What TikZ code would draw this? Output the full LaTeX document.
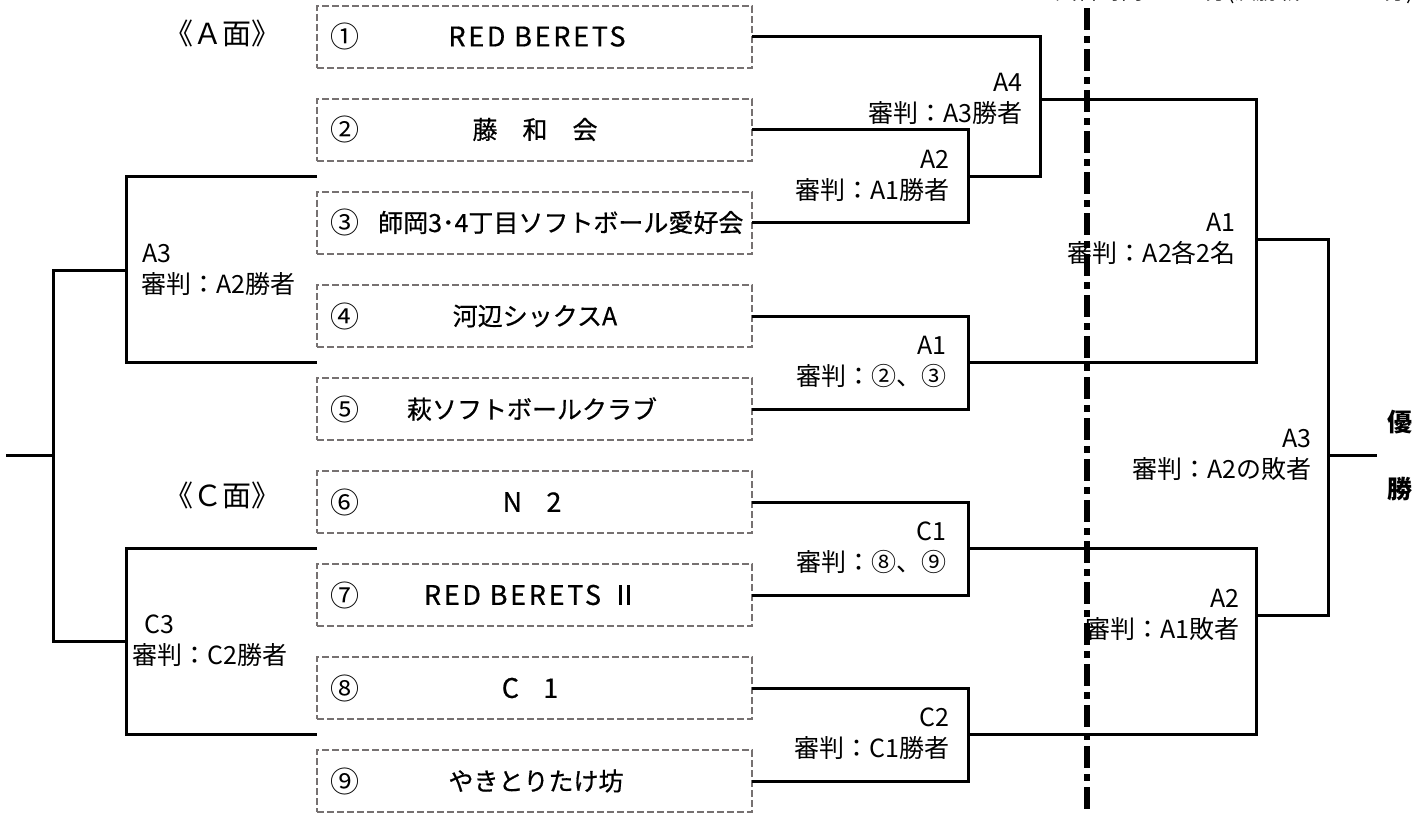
\documentclass[tikz,border=0pt]{standalone}
\usepackage{fontspec}
\setmainfont{Noto Sans CJK JP}
\newfontfamily\teamfont[FakeBold=0.6]{Noto Sans CJK JP}
\newfontfamily\teamlatin[FakeBold=0.6,LetterSpace=10]{Noto Sans CJK JP}
\usepackage{tikz}
\usetikzlibrary{positioning}
\definecolor{boxgray}{RGB}{118,113,113}

\begin{document}
\begin{tikzpicture}[x=1pt,y=1pt,yscale=-1,xscale=1,
  team/.style={draw=boxgray,line width=2pt,dash pattern=on 7pt off 3pt,minimum width=435pt,minimum height=62pt,inner sep=0pt,outer sep=0pt},
  num/.style={font=\fontsize{29}{32}\selectfont,inner sep=0pt},
  tname/.style={font=\teamfont\fontsize{25}{28}\selectfont,inner sep=0pt},
  tlatin/.style={font=\teamlatin\fontsize{27}{30}\selectfont,inner sep=0pt},
  bracket/.style={line width=3pt},
  judge/.style={font=\fontsize{25}{31}\selectfont,align=right,inner sep=0pt},
  judgel/.style={font=\fontsize{25}{31}\selectfont,align=left,inner sep=0pt},
  court/.style={font=\fontsize{29}{32}\selectfont,inner sep=0pt},
  divider/.style={line width=6.5pt,dash pattern=on 22pt off 6pt on 7pt off 6pt}]
\useasboundingbox (0,0) rectangle (1428,814);

%Shape: Team boxes
\node[team] (t1) at (534.5,36.5) {};
\node[team] (t2) at (534.5,129.5) {};
\node[team] (t3) at (534.5,222.5) {};
\node[team] (t4) at (534.5,316) {};
\node[team] (t5) at (534.5,409) {};
\node[team] (t6) at (534.5,502) {};
\node[team] (t7) at (534.5,595) {};
\node[team] (t8) at (534.5,688) {};
\node[team] (t9) at (534.5,781) {};

% Text Node: numbers and teams
\node[num] (n1) at (345,36.5) {①};
\node[tlatin] (name1) at (537,36.5) {RED BERETS};
\node[num] (n2) at (345,129.5) {②};
\node[tname] (name2) at (535,129.5) {藤　和　会};
\node[num] (n3) at (345,222.5) {③};
\node[tname,anchor=west] (name3) at (378,222.5) {師岡3･4丁目ソフトボール愛好会};
\node[num] (n4) at (345,316) {④};
\node[tname] (name4) at (535,316) {河辺シックスA};
\node[num] (n5) at (345,409) {⑤};
\node[tname] (name5) at (532,409) {萩ソフトボールクラブ};
\node[num] (n6) at (345,502) {⑥};
\node[tlatin] (name6) at (532,502) {N\hspace{0.9em}2};
\node[num] (n7) at (345,595) {⑦};
\node[tlatin] (name7) at (531,595) {RED BERETS\hspace{10pt}Ⅱ};
\node[num] (n8) at (345,688) {⑧};
\node[tlatin] (name8) at (530,688) {C\hspace{0.9em}1};
\node[num] (n9) at (345,781) {⑨};
\node[tname] (name9) at (536,781) {やきとりたけ坊};

% Text Node: courts
\node[court] (courtA) at (222,33) {《Ａ面》};
\node[court] (courtC) at (222,495) {《Ｃ面》};

% junctions
\coordinate (mA4) at (1040,99);
\coordinate (mA2) at (968,176);
\coordinate (mA1) at (968,362);
\coordinate (mC1) at (968,548);
\coordinate (mC2) at (968,734);
\coordinate (jA1) at (1256,239);
\coordinate (jA2) at (1256,615);
\coordinate (jA3) at (1328,455);
\coordinate (lA3) at (126,270);
\coordinate (lC3) at (126,641);
\coordinate (lF) at (53,455);
\coordinate (lEnd) at (6,455);

%Straight Lines: first round
\draw[bracket] (t2.east) -| (mA2) |- (t3.east);
\draw[bracket] (t1.east) -| (mA4) |- (mA2);
\draw[bracket] (t4.east) -| (mA1) |- (t5.east);
\draw[bracket] (t6.east) -| (mC1) |- (t7.east);
\draw[bracket] (t8.east) -| (mC2) |- (t9.east);
%Straight Lines: right side
\draw[bracket] (mA4) -| (jA1);
\draw[bracket] (mA1) -| (jA1);
\draw[bracket] (mC1) -| (jA2);
\draw[bracket] (mC2) -| (jA2);
\draw[bracket] (jA1) -| (jA3);
\draw[bracket] (jA2) -| (jA3);
%Straight Lines: left side
\draw[bracket] (t3.west |- mA2) -| (lA3) |- (t4.west |- mA1);
\draw[bracket] (t7.west |- mC1) -| (lC3) |- (t8.west |- mC2);
\draw[bracket] (lA3) -| (lF) |- (lC3);
\draw[bracket] (lF) -- (lEnd);

% Text Node: referees
\node[judge,left=17pt of mA4] (labA4) {A4\\審判：A3勝者};
\node[judge,left=18pt of mA2] (labA2) {A2\\審判：A1勝者};
\node[judge,left=21pt of mA1] (labA1) {A1\\審判：②、③};
\node[judge,left=21pt of mC1] (labC1) {C1\\審判：⑧、⑨};
\node[judge,left=18pt of mC2] (labC2) {C2\\審判：C1勝者};
\node[judge,left=20pt of jA1] (labA1b) {A1\\審判：A2各2名};
\node[judge,left=16pt of jA2] (labA2b) {A2\\審判：A1敗者};
\node[judge,left=16pt of jA3] (labA3b) {A3\\審判：A2の敗者};
\node[judgel,right=15pt of lA3] (labA3l) {\hspace*{1pt}A3\\審判：A2勝者};
\node[judgel,right=6pt of lC3] (labC3l) {\hspace*{12pt}C3\\審判：C2勝者};

% Text Node: final
\node[font=\fontsize{25}{67}\selectfont\bfseries,align=center,inner sep=0pt] (win) at (1400,455) {優\\勝};
\draw[bracket] (jA3) -- (jA3 -| 1377,0);

% Text Node: note (cut at top)
\node[anchor=base west,font=\fontsize{22}{25}\selectfont,inner sep=0pt] (note) at (1033,-1) {・試合時間\hspace{62pt}分(決勝戦は\hspace{62pt}分)};

%Straight Lines: divider
\draw[divider] (1087,8) -- (1087,814);

\end{tikzpicture}
\end{document}
